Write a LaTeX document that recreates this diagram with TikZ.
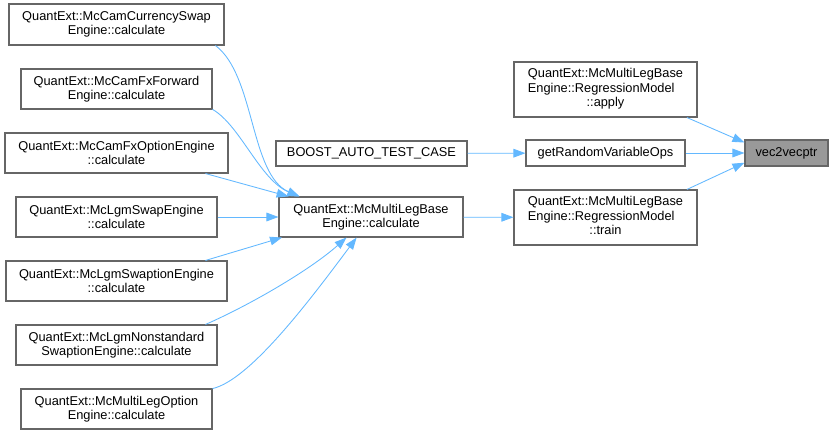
\documentclass[tikz,border=0pt]{standalone}
\usepackage{fontspec}
\setmainfont{Liberation Sans}
\usetikzlibrary{arrows.meta}

\begin{document}
\begin{tikzpicture}[x=0.75pt, y=-0.75pt, font=\fontsize{9.6}{10.8}\selectfont,
    fnbox/.style n args={2}{draw=boxline, line width=0.8pt, fill=white, align=center,
        inner sep=0pt, minimum width=#1*0.75pt, minimum height=#2*0.75pt},
    edge/.style={draw=edgeblue, line width=0.65pt, -{Triangle[length=9pt, width=6.5pt]}}]
    % --- Colores ---
    \definecolor{edgeblue}{HTML}{63B8FF} \definecolor{boxline}{HTML}{666666}
    \definecolor{nodegray}{HTML}{999999}

    \useasboundingbox (0,0) rectangle (833,435);

    % --- Columna izquierda: engines que llaman a calculate ---
    \node[fnbox={215}{41}] (cs) at (116.5,24.5) {QuantExt::McCamCurrencySwap\\Engine::calculate};
    \node[fnbox={191}{40}] (ff) at (116.5,89) {QuantExt::McCamFxForward\\Engine::calculate};
    \node[fnbox={223}{40}] (fo) at (116.5,153) {QuantExt::McCamFxOptionEngine\\::calculate};
    \node[fnbox={201}{40}] (ls) at (116.5,217) {QuantExt::McLgmSwapEngine\\::calculate};
    \node[fnbox={221}{40}] (lsw) at (116.5,281) {QuantExt::McLgmSwaptionEngine\\::calculate};
    \node[fnbox={201}{40}] (lns) at (116.5,345) {QuantExt::McLgmNonstandard\\SwaptionEngine::calculate};
    \node[fnbox={191}{40}] (mlo) at (116.5,409) {QuantExt::McMultiLegOption\\Engine::calculate};

    % --- Columna central ---
    \node[fnbox={191}{25}] (boost) at (371.5,153.5) {BOOST\_AUTO\_TEST\_CASE};
    \node[fnbox={184}{40}] (calc) at (371,217) {QuantExt::McMultiLegBase\\Engine::calculate};

    % --- Columna derecha ---
    \node[fnbox={183}{55}] (apply) at (605.5,89.5) {\begin{tabular}{@{}l@{}}QuantExt::McMultiLegBase\\
        Engine::RegressionModel\\\multicolumn{1}{@{}c@{}}{::apply}\end{tabular}};
    \node[fnbox={159}{26}] (rvo) at (605.5,153) {getRandomVariableOps};
    \node[fnbox={183}{55}] (train) at (605.5,217.5) {\begin{tabular}{@{}l@{}}QuantExt::McMultiLegBase\\
        Engine::RegressionModel\\\multicolumn{1}{@{}c@{}}{::train}\end{tabular}};
    \node[fnbox={83}{26}, fill=nodegray] (vec) at (786.5,153) {vec2vecptr};

    % --- Llamadas hacia calculate ---
    \draw[edge] (cs.-12) .. controls (255,75) and (250,175) .. (calc.164.3);
    \draw[edge] (ff.-12.7) .. controls (240,125) and (260,180) .. (calc.164.7);
    \draw[edge] (fo.-13.95) -- (calc.166.6);
    \draw[edge] (ls.east) -- (calc.west);
    \draw[edge] (lsw.13.95) -- (calc.193.9);
    \draw[edge] (lns.13.95) .. controls (250,305) and (310,270) .. (calc.-140);
    \draw[edge] (mlo.12.7) .. controls (250,380) and (310,300) .. (calc.-125);

    % --- Llamadas hacia vec2vecptr ---
    \draw[edge] (boost) -- (rvo);
    \draw[edge] (calc) -- (train);
    \draw[edge] (apply.-19.3) -- (vec.166.5);
    \draw[edge] (rvo) -- (vec);
    \draw[edge] (train.19.3) -- (vec.193.5);
\end{tikzpicture}
\end{document}
